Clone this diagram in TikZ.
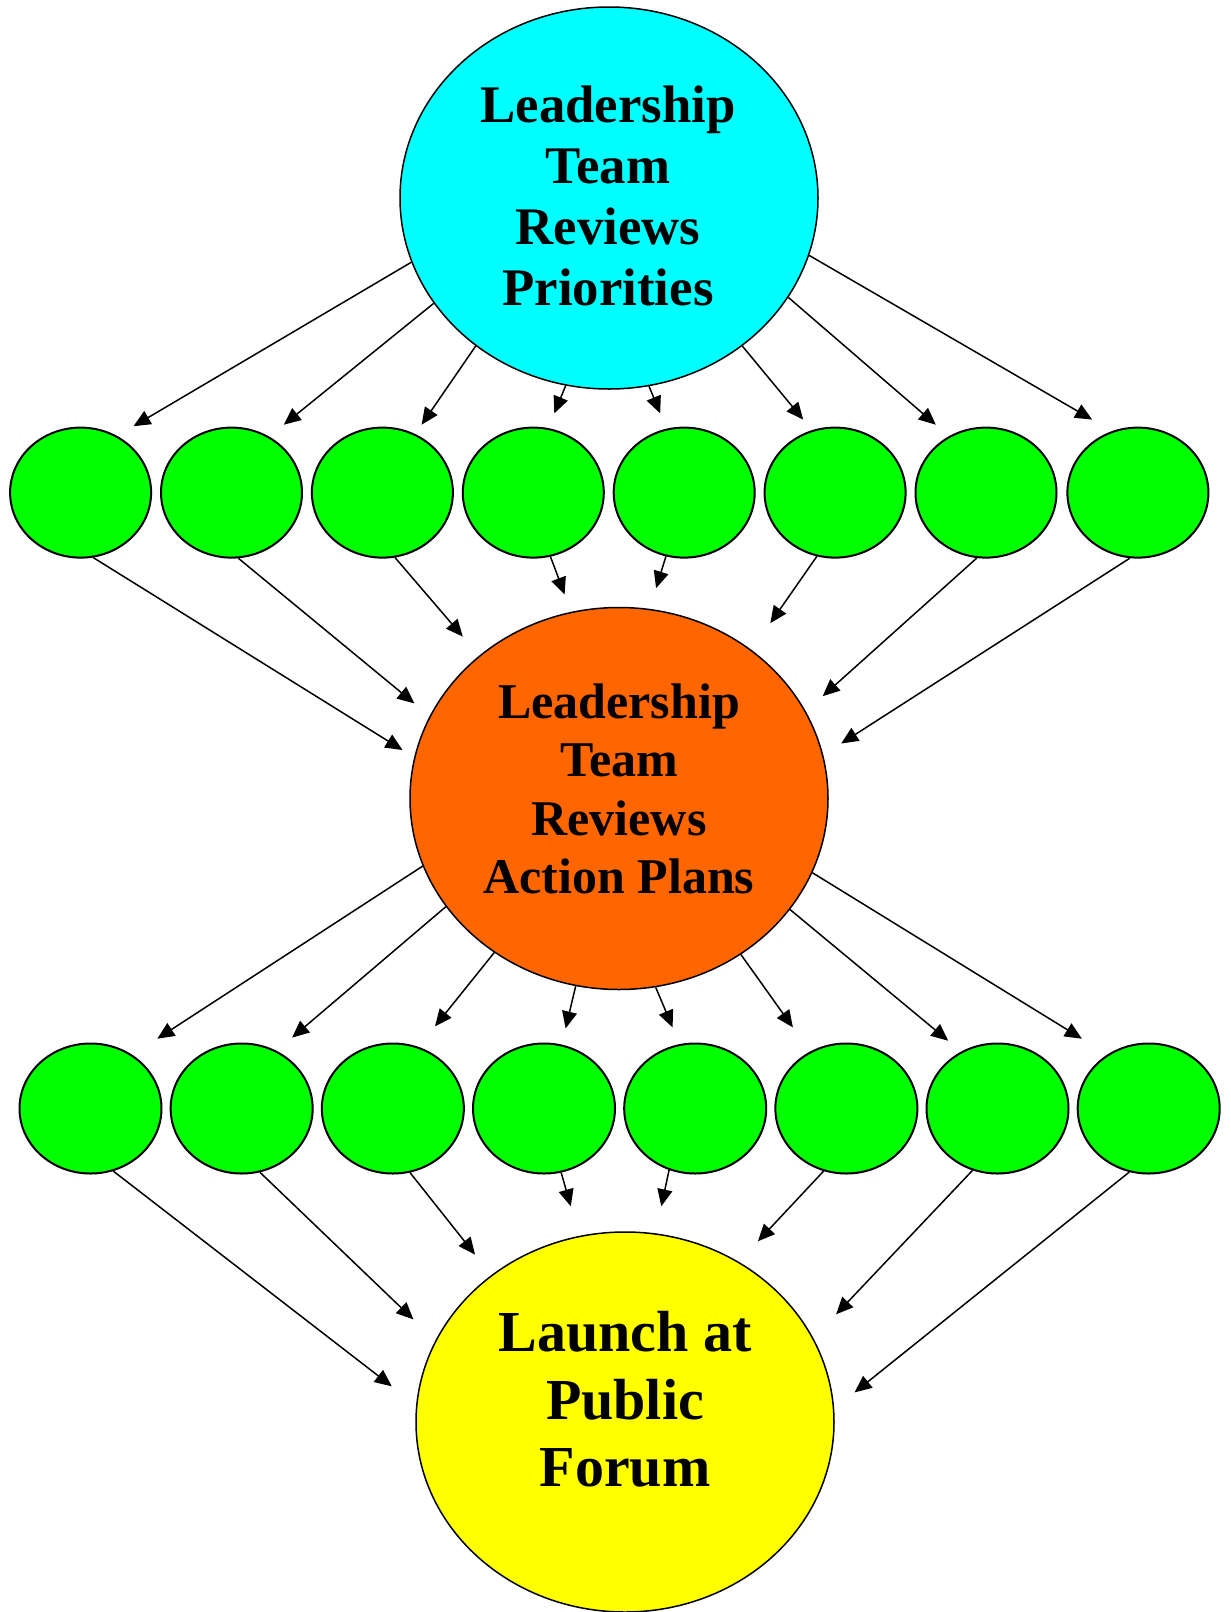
\documentclass[tikz,border=0pt]{standalone}
\usepackage{fontspec}
\setmainfont{Liberation Serif}
\usetikzlibrary{shapes.geometric,arrows.meta}
\definecolor{topfill}{RGB}{0,255,255}
\definecolor{midfill}{RGB}{255,102,0}
\definecolor{botfill}{RGB}{255,255,0}
\definecolor{gfill}{RGB}{0,255,0}
\begin{document}
\begin{tikzpicture}[x=0.5pt,y=-0.5pt,
  bigell/.style={ellipse, draw=black, line width=0.75pt, minimum width=209pt, minimum height=191pt, inner sep=0pt},
  gell/.style={ellipse, draw=black, line width=1pt, fill=gfill, minimum width=70.5pt, minimum height=65pt, inner sep=0pt},
  arr/.style={-{Triangle[length=8.5pt,width=7.5pt]}, line width=0.75pt},
  txt/.style={align=center, inner sep=0pt}]
\useasboundingbox (0,0) rectangle (1231,1612);

% big ellipses
\node[bigell, fill=topfill] (top) at (609,198) {};
\node[bigell, fill=midfill] (mid) at (619,798.5) {};
\node[bigell, fill=botfill, minimum height=190pt] (bot) at (625,1422) {};

\node[txt, font={\bfseries\fontsize{26.4pt}{30.55pt}\selectfont}] (toptext) at (608,196) {Leadership\\Team\\Reviews\\Priorities};
\node[txt, font={\bfseries\fontsize{25pt}{29.2pt}\selectfont}] (midtext) at (619,789) {Leadership\\Team\\Reviews\\Action Plans};
\node[txt, font={\bfseries\fontsize{29pt}{33.6pt}\selectfont}] (bottext) at (625,1399.3) {Launch at\\Public\\Forum};

% green rows
\foreach \i/\x in {1/80.6,2/231.5,3/382.4,4/533.3,5/684.2,6/835.1,7/986,8/1137.9}
  \node[gell] (ga\i) at (\x,492.6) {};
\foreach \i/\x in {1/90.5,2/241.67,3/392.84,4/544.0,5/695.2,6/846.35,7/997.5,8/1148.7}
  \node[gell, minimum width=71pt] (gb\i) at (\x,1108.5) {};

% top -> row 1
\foreach \i/\a/\tx/\ty in {1/198.6/133.5/426.2, 2/211.6/283.8/424.7, 3/228.6/421.6/424.7, 4/257.3/554.3/413.4,
  5/282.6/660.2/413.4, 6/312.8/803.2/419.6, 7/331.1/935.8/424.7, 8/344.8/1092.2/419.6}{
  \coordinate (ta\i) at (\tx,\ty);
  \draw[arr] (top.\a) -- (ta\i);
}
% row 1 -> mid
\foreach \i/\a/\tx/\ty in {1/281.7/402.5/750, 2/276.5/414.4/703.4, 3/281.0/462.8/636.6, 4/285.3/564.6/594.4,
  5/254/656.1/588.2, 6/254.2/770.3/623.2, 7/262.8/822.7/696.2, 8/263/841.2/743.5}{
  \coordinate (tb\i) at (\tx,\ty);
  \draw[arr] (ga\i.\a) -- (tb\i);
}
% mid -> row 2
\foreach \i/\a/\tx/\ty in {1/199.9/157.3/1038.7, 2/212.1/292.1/1037.6, 3/231.4/435/1026.3, 4/257.6/565.6/1028.4,
  5/281.8/672.6/1027.4, 6/308.7/792.9/1027.4, 7/327.6/948.2/1040.7, 8/339.7/1081.9/1038.7}{
  \coordinate (tc\i) at (\tx,\ty);
  \draw[arr] (mid.\a) -- (tc\i);
}
% row 2 -> bottom
\foreach \i/\a/\tx/\ty in {1/290.8/391.8/1386.3, 2/286.7/413.4/1319.4, 3/285.1/475.1/1254.6, 4/285.1/570.8/1206.3,
  5/247.6/661.3/1206.3, 6/250/757.9/1241.3, 7/248.4/836.1/1314.3, 8/253.3/854.6/1392.4}{
  \coordinate (td\i) at (\tx,\ty);
  \draw[arr] (gb\i.\a) -- (td\i);
}
\end{tikzpicture}
\end{document}
